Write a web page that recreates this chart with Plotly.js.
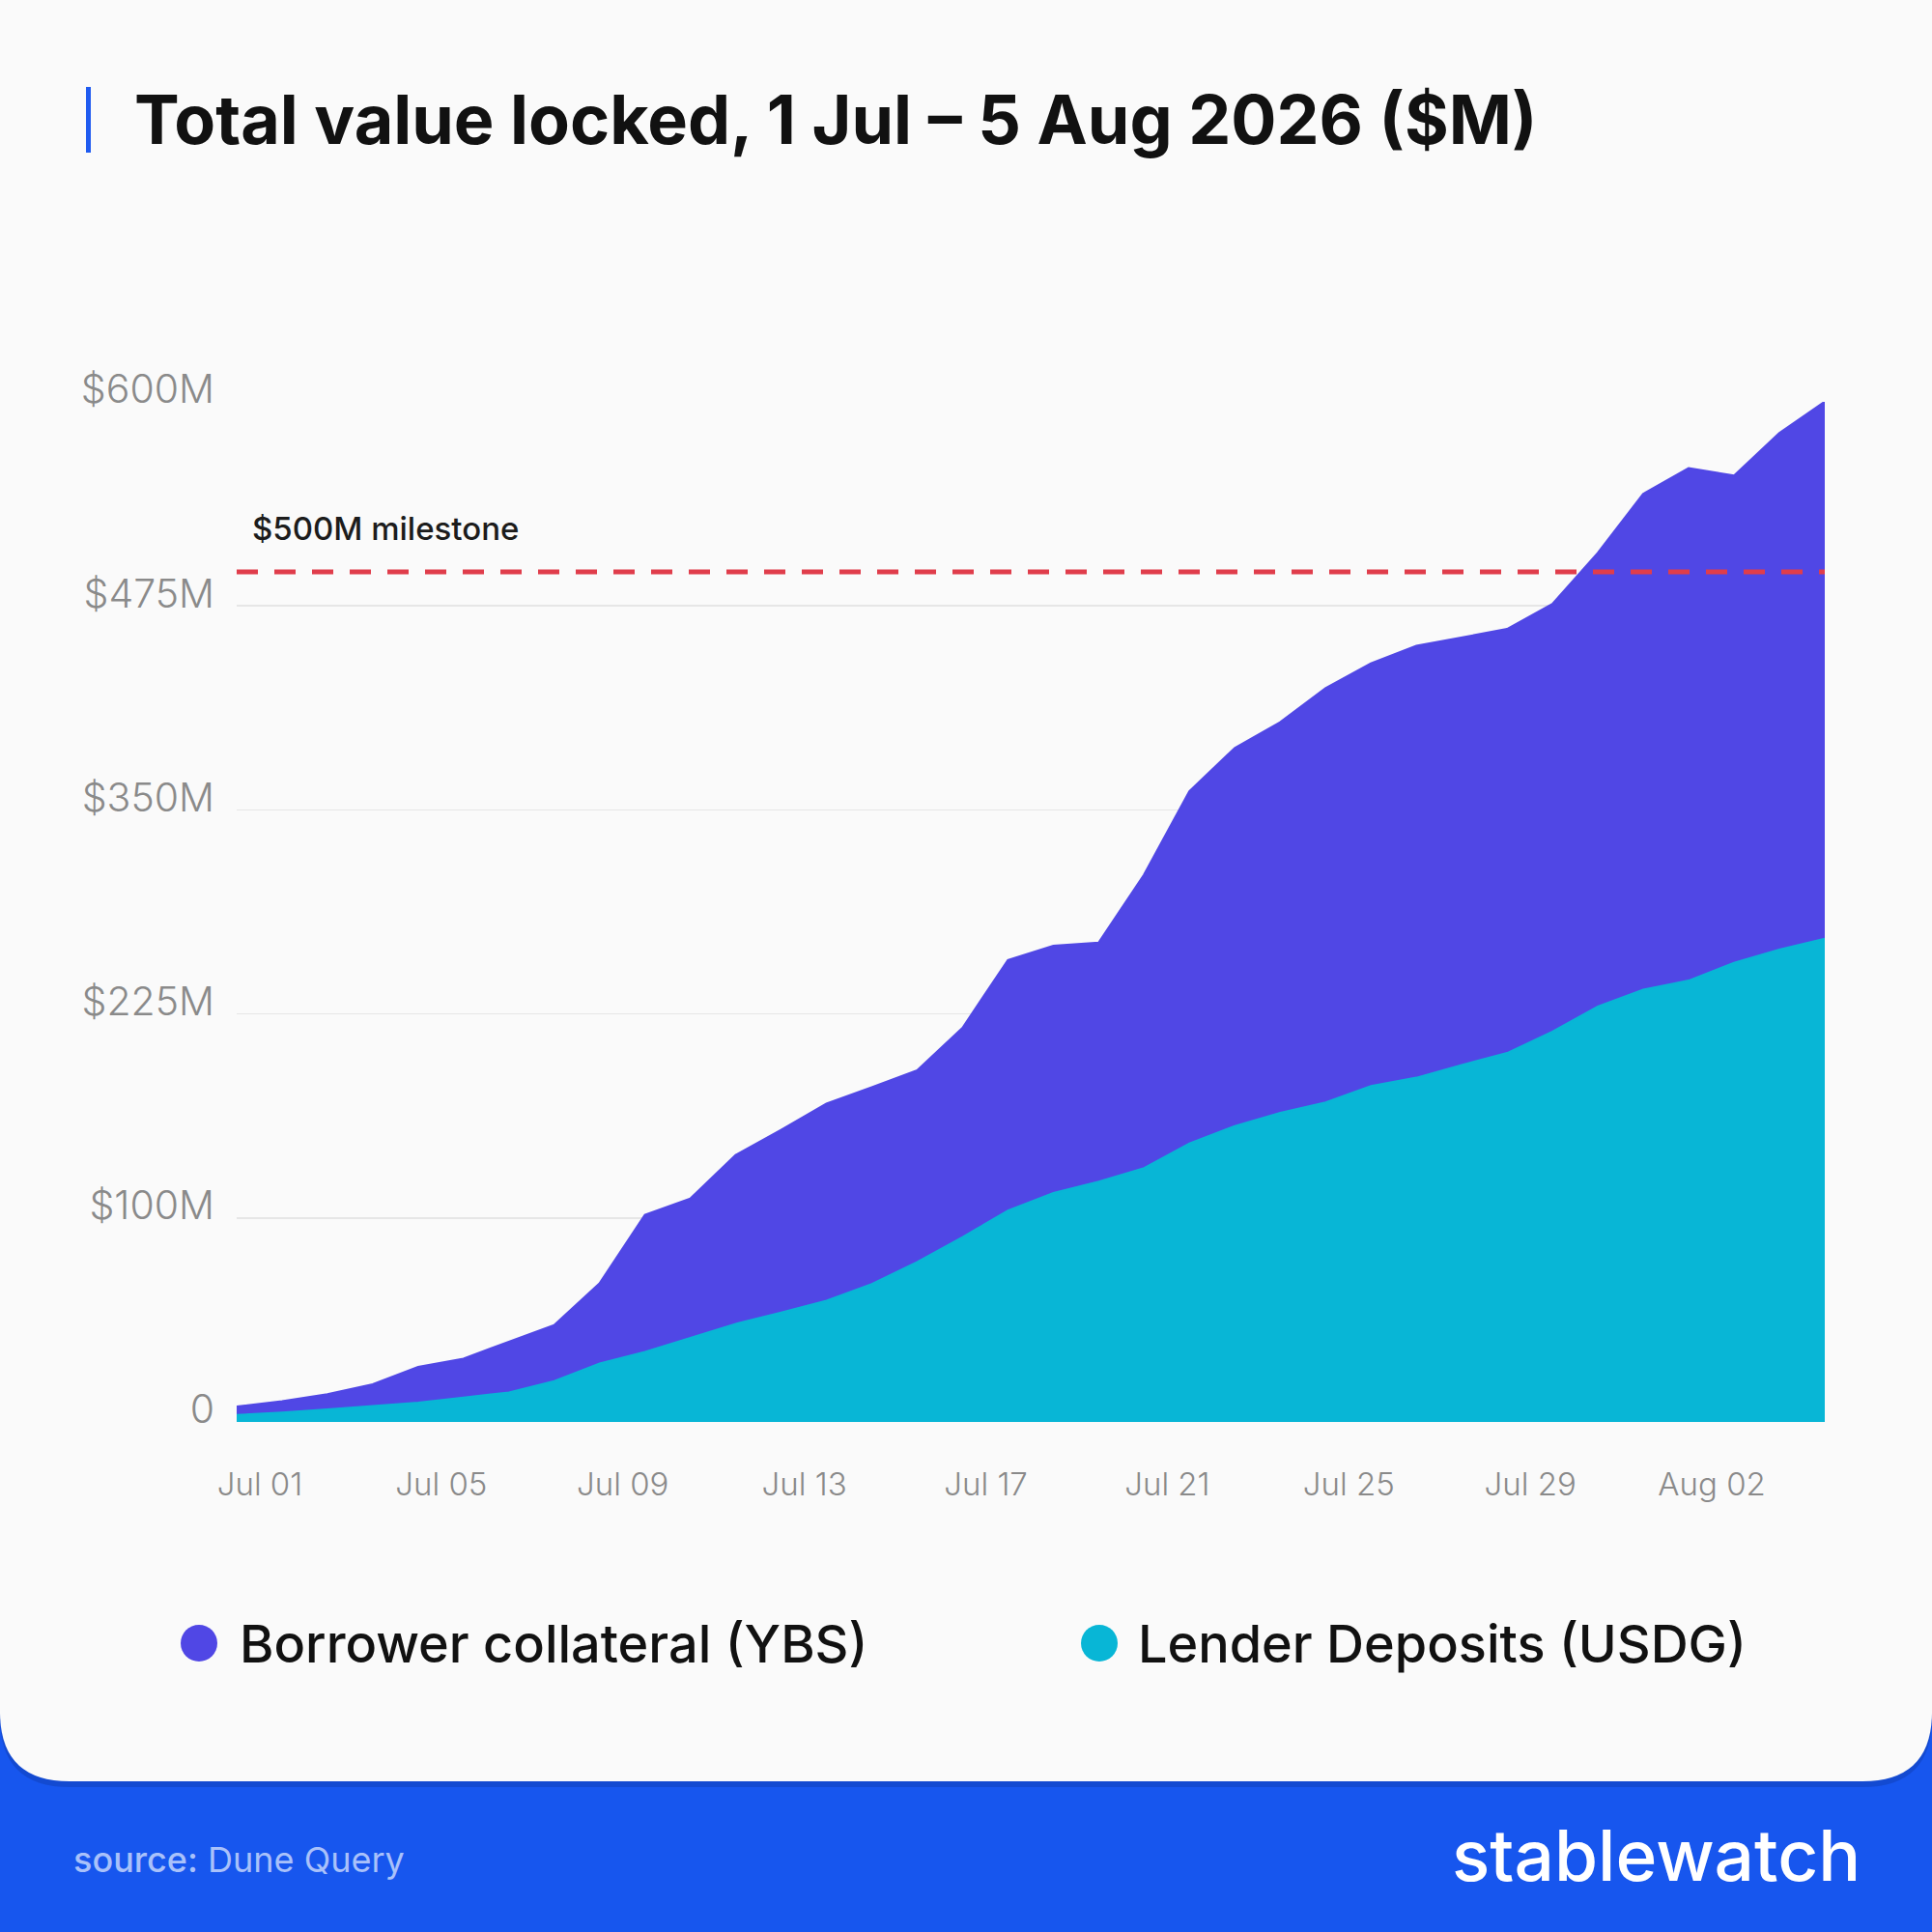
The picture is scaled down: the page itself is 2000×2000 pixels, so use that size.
<!DOCTYPE html>
<html>
<head>
<meta charset="utf-8">
<script src="https://cdn.plot.ly/plotly-3.0.1.min.js"></script>
<style>
  html, body { margin: 0; padding: 0; background: #1756ee; }
  #chart { width: 2000px; height: 2000px; }
</style>
</head>
<body>
<div id="chart"></div>
<script>
// ---- Data, values in $M ----
const dates = [
  '2026-07-01','2026-07-02','2026-07-03','2026-07-04','2026-07-05','2026-07-06',
  '2026-07-07','2026-07-08','2026-07-09','2026-07-10','2026-07-11','2026-07-12',
  '2026-07-13','2026-07-14','2026-07-15','2026-07-16','2026-07-17','2026-07-18',
  '2026-07-19','2026-07-20','2026-07-21','2026-07-22','2026-07-23','2026-07-24',
  '2026-07-25','2026-07-26','2026-07-27','2026-07-28','2026-07-29','2026-07-30',
  '2026-07-31','2026-08-01','2026-08-02','2026-08-03','2026-08-04','2026-08-05'
];
const lenderDeposits = [
  4.1, 5.5, 7.4, 9.3, 11.4, 14.4, 17.4, 24.0, 34.4, 41.2, 49.6, 57.7,
  64.3, 71.3, 81.2, 94.1, 108.8, 124.3, 134.7, 141.4, 149.3, 163.9, 174.0, 181.8,
  187.9, 197.6, 202.5, 210.0, 217.0, 229.6, 244.4, 254.3, 259.6, 270.0, 277.8, 284.3
];
const borrowerCollateral = [
  4.8, 6.6, 8.8, 12.8, 20.8, 22.7, 29.7, 32.8, 47.0, 80.5, 81.7, 99.2,
  107.4, 115.9, 115.6, 112.6, 122.9, 147.3, 145.3, 140.4, 172.5, 207.0, 222.3, 229.7,
  243.6, 248.5, 253.9, 251.3, 249.3, 251.5, 266.7, 291.5, 301.3, 286.5, 303.7, 315.7
];
const seriesNames = ['Borrower collateral (YBS)', 'Lender Deposits (USDG)'];
const xTickVals = ['2026-07-01','2026-07-05','2026-07-09','2026-07-13','2026-07-17',
                   '2026-07-21','2026-07-25','2026-07-29','2026-08-02'];
const xTickLabels = ['Jul 01','Jul 05','Jul 09','Jul 13','Jul 17','Jul 21','Jul 25','Jul 29','Aug 02'];
const yTickVals = [0, 120, 240, 360, 480, 600];
const yTickLabels = ['0', '$100M', '$225M', '$350M', '$475M', '$600M'];
const milestoneValue = 500;
const milestoneLabel = '$500M milestone';
const titleText = 'Total value locked, 1 Jul \u2013 5 Aug 2026 ($M)';
const sourceText = 'source:';
const sourceName = 'Dune Query';
const brandText = 'stablewatch';

// ---- Geometry ----
const W = 2000, H = 2000;
const M = { l: 245, r: 111, t: 416, b: 528 };
const PW = W - M.l - M.r, PH = H - M.t - M.b;
const px = x => (x - M.l) / PW;           // absolute px -> paper x
const py = y => (H - M.b - y) / PH;       // absolute px -> paper y

const PURPLE = '#5047E5';
const CYAN = '#08B6D6';
const BLUE = '#1756EE';
const CARD = '#FAFAFA';

function cardPath(dy) {
  const r = 72, bottom = 1844 + dy;
  const pts = [
    ['M', 0, 0], ['L', W, 0], ['L', W, bottom - r],
    ['Q', W, bottom, W - r, bottom], ['L', r, bottom],
    ['Q', 0, bottom, 0, bottom - r], ['Z']
  ];
  return pts.map(p => {
    if (p[0] === 'Z') return 'Z';
    if (p[0] === 'Q') return 'Q' + px(p[1]) + ',' + py(p[2]) + ' ' + px(p[3]) + ',' + py(p[4]);
    return p[0] + px(p[1]) + ',' + py(p[2]);
  }).join(' ');
}

const traces = [
  {
    type: 'scatter', mode: 'lines', x: dates, y: lenderDeposits,
    name: seriesNames[1], stackgroup: 'tvl',
    line: { color: CYAN, width: 2 }, fillcolor: CYAN,
    showlegend: false, hoverinfo: 'skip'
  },
  {
    type: 'scatter', mode: 'lines', x: dates, y: borrowerCollateral,
    name: seriesNames[0], stackgroup: 'tvl',
    line: { color: PURPLE, width: 2.5 }, fillcolor: PURPLE,
    showlegend: false, hoverinfo: 'skip'
  }
];

const legendY = 1701;
const legendItems = [
  { cx: 206, tx: 246, name: seriesNames[0], color: PURPLE },
  { cx: 1138, tx: 1176, name: seriesNames[1], color: CYAN }
];

const shapes = [
  // shadow + card
  { type: 'path', xref: 'paper', yref: 'paper', path: cardPath(6), fillcolor: 'rgba(10,30,110,0.22)', line: { width: 0 }, layer: 'below' },
  { type: 'path', xref: 'paper', yref: 'paper', path: cardPath(0), fillcolor: CARD, line: { width: 0 }, layer: 'below' },
  // accent bar next to title
  { type: 'rect', xref: 'paper', yref: 'paper', x0: px(89), x1: px(94), y0: py(90), y1: py(158), fillcolor: '#1F5BF0', line: { width: 0 } },
  // milestone line
  { type: 'line', xref: 'paper', yref: 'y', x0: 0, x1: 1, y0: milestoneValue, y1: milestoneValue,
    line: { color: '#E03D4B', width: 5, dash: '22px,17px' }, layer: 'above' }
];
legendItems.forEach(it => {
  shapes.push({ type: 'circle', xref: 'paper', yref: 'paper',
    x0: px(it.cx - 19), x1: px(it.cx + 19), y0: py(legendY + 19), y1: py(legendY - 19),
    fillcolor: it.color, line: { width: 0 } });
});

const annotations = [
  { xref: 'paper', yref: 'y', x: px(259), y: milestoneValue, xanchor: 'left', yanchor: 'bottom',
    yshift: 23, text: milestoneLabel, showarrow: false,
    font: { family: 'Inter, sans-serif', size: 33, color: '#1c1c1c', weight: 500 } },
  { xref: 'paper', yref: 'paper', x: px(74), y: py(1925), xanchor: 'left', yanchor: 'middle',
    text: '<span style="font-weight:500">' + sourceText + '</span> ' + sourceName, showarrow: false,
    font: { family: 'Inter, sans-serif', size: 36, color: '#A9C1FA', weight: 400 } },
  { xref: 'paper', yref: 'paper', x: px(1928), y: py(1920), xanchor: 'right', yanchor: 'middle',
    text: brandText, showarrow: false,
    font: { family: 'Inter, sans-serif', size: 73, color: '#FFFFFF', weight: 500 } }
];
legendItems.forEach(it => {
  annotations.push({ xref: 'paper', yref: 'paper', x: px(it.tx), y: py(legendY), xanchor: 'left', yanchor: 'middle',
    text: it.name, showarrow: false,
    font: { family: 'Inter, sans-serif', size: 54, color: '#111111', weight: 500 } });
});

const layout = {
  width: W, height: H,
  margin: M,
  paper_bgcolor: BLUE,
  plot_bgcolor: 'rgba(0,0,0,0)',
  showlegend: false,
  title: {
    text: titleText, xref: 'container', yref: 'container',
    x: 139 / W, y: 1 - 124 / H, xanchor: 'left', yanchor: 'middle',
    font: { family: 'Inter, sans-serif', size: 70, color: '#111111', weight: 700 }
  },
  xaxis: {
    type: 'date', range: [dates[0], dates[dates.length - 1]],
    tickmode: 'array', tickvals: xTickVals, ticktext: xTickLabels,
    showgrid: false, zeroline: false, showline: false, ticks: '',
    ticklabelshift: 24, ticklabelstandoff: 42,
    tickfont: { family: 'Inter, sans-serif', size: 33, color: '#8A8A8A', weight: 300 }
  },
  yaxis: {
    range: [0, 600], tickmode: 'array', tickvals: yTickVals, ticktext: yTickLabels,
    showgrid: true, gridcolor: '#E6E6E6', gridwidth: 1.5,
    zeroline: false, showline: false, ticks: '',
    ticklabelshift: -13, ticklabelstandoff: 22,
    tickfont: { family: 'Inter, sans-serif', size: 41, color: '#8A8A8A', weight: 300 }
  },
  shapes: shapes,
  annotations: annotations
};

Plotly.newPlot('chart', traces, layout, { displayModeBar: false, staticPlot: true });
</script>
</body>
</html>
